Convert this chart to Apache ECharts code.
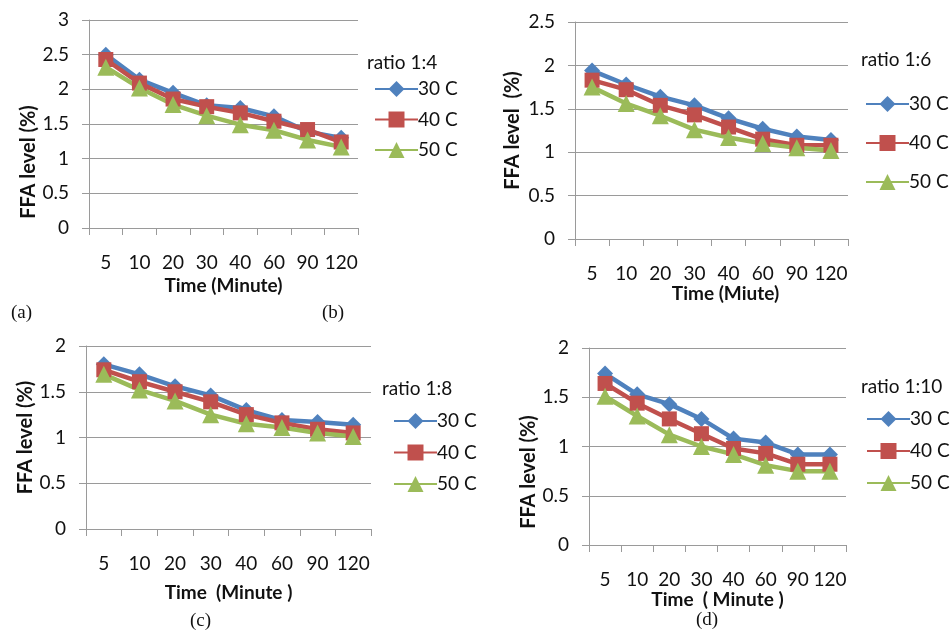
<!DOCTYPE html>
<html>
<head>
<meta charset="utf-8">
<script src="https://cdn.jsdelivr.net/npm/echarts@6/dist/echarts.min.js"></script>
<style>
  html, body { margin: 0; padding: 0; background: #fff; }
  #chart { width: 951px; height: 632px; }
</style>
</head>
<body>
<div id="chart"></div>
<script>
// x categories (minutes)
const categories = ['5', '10', '20', '30', '40', '60', '90', '120'];
const seriesNames = ['30 C', '40 C', '50 C'];

// ratio 1:4
const r4_30 = [2.50, 2.14, 1.95, 1.77, 1.73, 1.61, 1.39, 1.30];
const r4_40 = [2.43, 2.09, 1.86, 1.75, 1.66, 1.54, 1.42, 1.24];
const r4_50 = [2.32, 2.02, 1.78, 1.62, 1.49, 1.41, 1.27, 1.17];
// ratio 1:6
const r6_30 = [1.94, 1.78, 1.64, 1.54, 1.39, 1.27, 1.18, 1.14];
const r6_40 = [1.83, 1.72, 1.54, 1.43, 1.29, 1.15, 1.08, 1.08];
const r6_50 = [1.75, 1.56, 1.42, 1.26, 1.17, 1.10, 1.05, 1.02];
// ratio 1:8
const r8_30 = [1.80, 1.69, 1.56, 1.46, 1.30, 1.19, 1.17, 1.14];
const r8_40 = [1.74, 1.61, 1.50, 1.39, 1.25, 1.16, 1.09, 1.05];
const r8_50 = [1.69, 1.52, 1.40, 1.25, 1.15, 1.11, 1.05, 1.01];
// ratio 1:10
const r10_30 = [1.74, 1.53, 1.43, 1.28, 1.08, 1.04, 0.92, 0.92];
const r10_40 = [1.64, 1.44, 1.28, 1.13, 0.98, 0.93, 0.82, 0.82];
const r10_50 = [1.51, 1.31, 1.12, 1.00, 0.92, 0.81, 0.75, 0.75];

const ratioLabels = ['ratio 1:4', 'ratio 1:6', 'ratio 1:8', 'ratio 1:10'];
const captions = ['(a)', '(b)', '(c)', '(d)'];
const xTitles = ['Time (Minute)', 'Time (Miute)', 'Time  (Minute )', 'Time  ( Minute )'];
const yTitles = ['FFA level (%)', 'FFA level  (%)', 'FFA level (%)', 'FFA level (%)'];
const yMax = [3, 2.5, 2, 2];
const panelData = [
    [r4_30, r4_40, r4_50],
    [r6_30, r6_40, r6_50],
    [r8_30, r8_40, r8_50],
    [r10_30, r10_40, r10_50]
];

const colours = ['#4F81BD', '#C0504D', '#9BBB59'];
const symbols = ['diamond', 'rect', 'triangle'];
const symbolSizes = [16, 15, 17];
const FONT = 'Lato, "Open Sans", sans-serif';
const gridColour = '#9a9a9a';

// layout of the four panels
const layout = [
    { grid: { left: 89, top: 20, width: 269, height: 208 }, xGap: 48, xPad: [0, 0, 0, 0], yGap: 48, yPad: [0, 76, 0, 0],
      title: { left: 367, top: 53 }, legend: { left: 369, top: 74, itemGap: 10.5 }, cap: { left: 11, top: 304 } },
    { grid: { left: 575, top: 22, width: 273, height: 217 }, xGap: 33, xPad: [0, 0, 0, 28], yGap: 52, yPad: [0, 0, 0, 0],
      title: { left: 861, top: 50 }, legend: { left: 860, top: 89, itemGap: 19 }, cap: { left: 322, top: 304 } },
    { grid: { left: 86, top: 346, width: 285, height: 183 }, xGap: 54, xPad: [0, 0, 0, 0], yGap: 48, yPad: [0, 0, 0, 0],
      title: { left: 382, top: 379 }, legend: { left: 388, top: 406, itemGap: 11.5 }, cap: { left: 190, top: 612 } },
    { grid: { left: 589, top: 348, width: 257, height: 197 }, xGap: 44, xPad: [0, 0, 0, 0], yGap: 47, yPad: [0, 51, 0, 0],
      title: { left: 861, top: 377 }, legend: { left: 861, top: 404, itemGap: 12 }, cap: { left: 696, top: 611 } }
];

document.addEventListener('DOMContentLoaded', () => {
    const chart = echarts.init(document.getElementById('chart'));

    const grid = [], xAxis = [], yAxis = [], series = [], legend = [], title = [];

    layout.forEach((p, i) => {
        grid.push(Object.assign({ containLabel: false }, p.grid));

        xAxis.push({
            type: 'category',
            gridIndex: i,
            data: categories,
            boundaryGap: true,
            name: xTitles[i],
            nameLocation: 'middle',
            nameGap: p.xGap,
            nameTextStyle: { fontFamily: FONT, fontSize: 19, fontWeight: 'bold', color: '#111', padding: p.xPad },
            axisLine: { lineStyle: { color: gridColour, width: 1 } },
            axisTick: { show: true, length: 7, lineStyle: { color: gridColour } },
            axisLabel: { fontFamily: FONT, fontSize: 19, color: '#111', margin: 25, interval: 0 }
        });

        yAxis.push({
            type: 'value',
            gridIndex: i,
            min: 0,
            max: yMax[i],
            interval: 0.5,
            name: yTitles[i],
            nameLocation: 'middle',
            nameGap: p.yGap,
            nameRotate: 90,
            nameTextStyle: { fontFamily: FONT, fontSize: 20, fontWeight: 'bold', color: '#111', padding: p.yPad },
            axisLine: { show: true, lineStyle: { color: gridColour, width: 1 } },
            axisTick: { show: true, length: 7, lineStyle: { color: gridColour } },
            axisLabel: { fontFamily: FONT, fontSize: 19, color: '#111', margin: 20 },
            splitLine: { show: true, lineStyle: { color: gridColour, width: 1 } }
        });

        panelData[i].forEach((vals, s) => {
            series.push({
                name: seriesNames[s],
                type: 'line',
                xAxisIndex: i,
                yAxisIndex: i,
                data: vals,
                symbol: symbols[s],
                symbolSize: symbolSizes[s],
                color: colours[s],
                lineStyle: { width: 4.5, color: colours[s] },
                itemStyle: { color: colours[s] },
                animation: false
            });
        });

        legend.push({
            orient: 'vertical',
            left: p.legend.left,
            top: p.legend.top,
            itemGap: p.legend.itemGap,
            itemWidth: 43,
            itemHeight: 20,
            data: seriesNames,
            selectedMode: false,
            textStyle: { fontFamily: FONT, fontSize: 19, color: '#111', lineHeight: 20, padding: [0, 0, 0, -5] }
        });

        title.push({
            text: ratioLabels[i],
            left: p.title.left,
            top: p.title.top,
            padding: 0,
            textStyle: { fontFamily: FONT, fontSize: 19, fontWeight: 'normal', color: '#111' }
        });
        title.push({
            text: captions[i],
            left: p.cap.left,
            top: p.cap.top,
            padding: 0,
            textStyle: { fontFamily: '"Liberation Serif", "DejaVu Serif", serif', fontSize: 19, fontWeight: 'normal', color: '#111' }
        });
    });

    chart.setOption({
        animation: false,
        backgroundColor: '#fff',
        title: title,
        legend: legend,
        grid: grid,
        xAxis: xAxis,
        yAxis: yAxis,
        series: series
    });

    window.addEventListener('resize', () => { chart.resize(); });
});
</script>
</body>
</html>
